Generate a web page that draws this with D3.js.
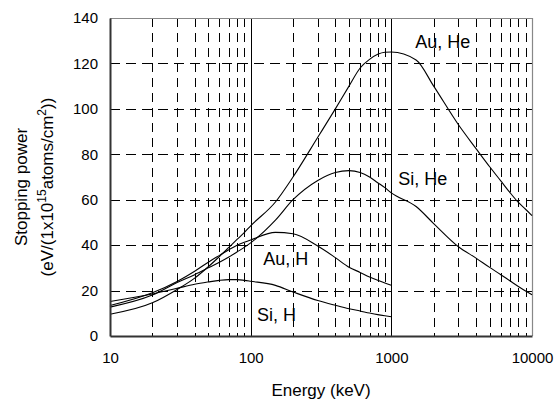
<!DOCTYPE html>
<html>
<head>
<meta charset="utf-8">
<script src="https://cdn.jsdelivr.net/npm/d3@7"></script>
<style>
  html, body { margin: 0; padding: 0; background: #fff; }
  svg { display: block; }
  text { font-family: "Liberation Sans", Arial, sans-serif; fill: #000; }
</style>
</head>
<body>
<svg id="chart" width="555" height="399"></svg>
<script>
// Energy grid (keV)
const energies = [10, 20, 30, 40, 50, 60, 70, 80, 90, 100, 150, 200, 300, 400, 500, 600, 700, 800, 900, 1000, 1500, 2000, 3000, 4000, 5000, 6000, 7000, 8000, 9000, 10000];

// Stopping cross sections, eV/(1e15 atoms/cm2)
const auHe = [9.6, 14.6, 20.5, 25.5, 30.5, 35, 39, 42.5, 45.5, 48.5, 59, 70, 87.5, 100, 110, 118, 121.8, 124, 124.9, 125, 121.5, 110, 93, 82.5, 74.5, 68.3, 63, 58.8, 55.8, 53];
const siHe = [12.7, 18, 23.5, 27, 30, 32.5, 34.8, 37, 39, 41, 51, 60, 68.5, 72, 72.8, 72, 70, 67.5, 65.3, 63, 57, 49.5, 39.3, 34.3, 30.2, 27, 24.2, 21.8, 19.8, 18.2];
const auH  = [13.4, 19, 24, 28.5, 32.5, 35.5, 38, 40, 41.3, 42.3, 45.6, 45.0, 39.6, 34.5, 30.3, 28, 26, 24.5, 23.3, 22.3, null, null, null, null, null, null, null, null, null, null];
const siH  = [15.2, 18.5, 21, 22.8, 23.8, 24.5, 24.8, 24.8, 24.5, 24.1, 22.3, 19.4, 15.6, 13.5, 12, 11, 10.1, 9.4, 8.9, 8.5, null, null, null, null, null, null, null, null, null, null];

const seriesNames = ["Au, He", "Si, He", "Au, H", "Si, H"];
const seriesValues = [auHe, siHe, auH, siH];
// label anchor: energy (keV) and value for each series label
const labelEnergy = [1480, 1120, 123, 111];
const labelValue = [126.8, 66.4, 31.1, 6.8];

const xTickValues = [10, 100, 1000, 10000];
const yTickValues = [0, 20, 40, 60, 80, 100, 120, 140];

const svg = d3.select("#chart");
const margin = { left: 110, right: 23, top: 18, bottom: 63 };
const W = 555, H = 399;

const x = d3.scaleLog().domain([10, 10000]).range([margin.left, W - margin.right]);
const y = d3.scaleLinear().domain([0, 140]).range([H - margin.bottom, margin.top]);

// minor vertical grid (2..9 of each decade), dashed
const minor = [];
for (let d = 10; d < 10000; d *= 10) for (let k = 2; k <= 9; k++) minor.push(d * k);

const grid = svg.append("g").attr("stroke", "#000").attr("stroke-width", 1).attr("shape-rendering", "crispEdges");
grid.selectAll("line.vmin").data(minor).join("line")
  .attr("x1", d => Math.round(x(d)) + 0.5).attr("x2", d => Math.round(x(d)) + 0.5)
  .attr("y1", y(140)).attr("y2", y(0))
  .attr("stroke-dasharray", "9,6");
grid.selectAll("line.h").data(yTickValues.slice(1, -1)).join("line")
  .attr("x1", x(10)).attr("x2", x(10000))
  .attr("y1", d => Math.round(y(d)) + 0.5).attr("y2", d => Math.round(y(d)) + 0.5)
  .attr("stroke-dasharray", "10,6");
// solid decade lines
grid.selectAll("line.dec").data([100, 1000]).join("line")
  .attr("x1", d => Math.round(x(d)) + 0.5).attr("x2", d => Math.round(x(d)) + 0.5)
  .attr("y1", y(140)).attr("y2", y(0));

// top and right frame
svg.append("path")
  .attr("d", `M${x(10)},${Math.round(y(140)) + 0.5}H${Math.round(x(10000)) + 0.5}V${y(0)}`)
  .attr("fill", "none").attr("stroke", "#888").attr("stroke-width", 1.2);

// curves
const line = d3.line()
  .defined(d => d[1] != null)
  .x(d => x(d[0])).y(d => y(d[1]))
  .curve(d3.curveMonotoneX);

svg.append("g").selectAll("path").data(seriesValues).join("path")
  .attr("d", vals => line(energies.map((e, i) => [e, vals[i]])))
  .attr("fill", "none").attr("stroke", "#000").attr("stroke-width", 1.1);

// axes
const xAxis = d3.axisBottom(x).tickValues(xTickValues).tickFormat(d3.format("d")).tickSize(0).tickPadding(16);
const yAxis = d3.axisLeft(y).tickValues(yTickValues).tickSize(0).tickPadding(12);

const gx = svg.append("g").attr("transform", `translate(0,${y(0)})`).call(xAxis);
const gy = svg.append("g").attr("transform", `translate(${x(10)},0)`).call(yAxis);
[gx, gy].forEach(g => {
  g.select(".domain").attr("stroke", "#333").attr("stroke-width", 2);
  g.selectAll("text").attr("font-size", 15).attr("font-family", "Liberation Sans, Arial, sans-serif");
});

// series labels
svg.append("g").selectAll("text").data(seriesNames).join("text")
  .attr("x", (d, i) => x(labelEnergy[i]))
  .attr("y", (d, i) => y(labelValue[i]))
  .attr("font-size", 18)
  .text(d => d);

// axis titles
svg.append("text")
  .attr("x", (x(10) + x(10000)) / 2).attr("y", 396)
  .attr("text-anchor", "middle").attr("font-size", 17)
  .text("Energy (keV)");

const yt = svg.append("g").attr("transform", `translate(0,${(y(0) + y(140)) / 2 + 10}) rotate(-90)`);
yt.append("text").attr("x", 0).attr("y", 27).attr("text-anchor", "middle").attr("font-size", 17)
  .text("Stopping power");
const t2 = yt.append("text").attr("x", 0).attr("y", 53).attr("text-anchor", "middle").attr("font-size", 17);
t2.append("tspan").text("(eV/(1x10");
t2.append("tspan").attr("font-size", 12).attr("dy", -7).text("15");
t2.append("tspan").attr("dy", 7).text("atoms/cm");
t2.append("tspan").attr("font-size", 12).attr("dy", -7).text("2");
t2.append("tspan").attr("dy", 7).text("))");
</script>
</body>
</html>
